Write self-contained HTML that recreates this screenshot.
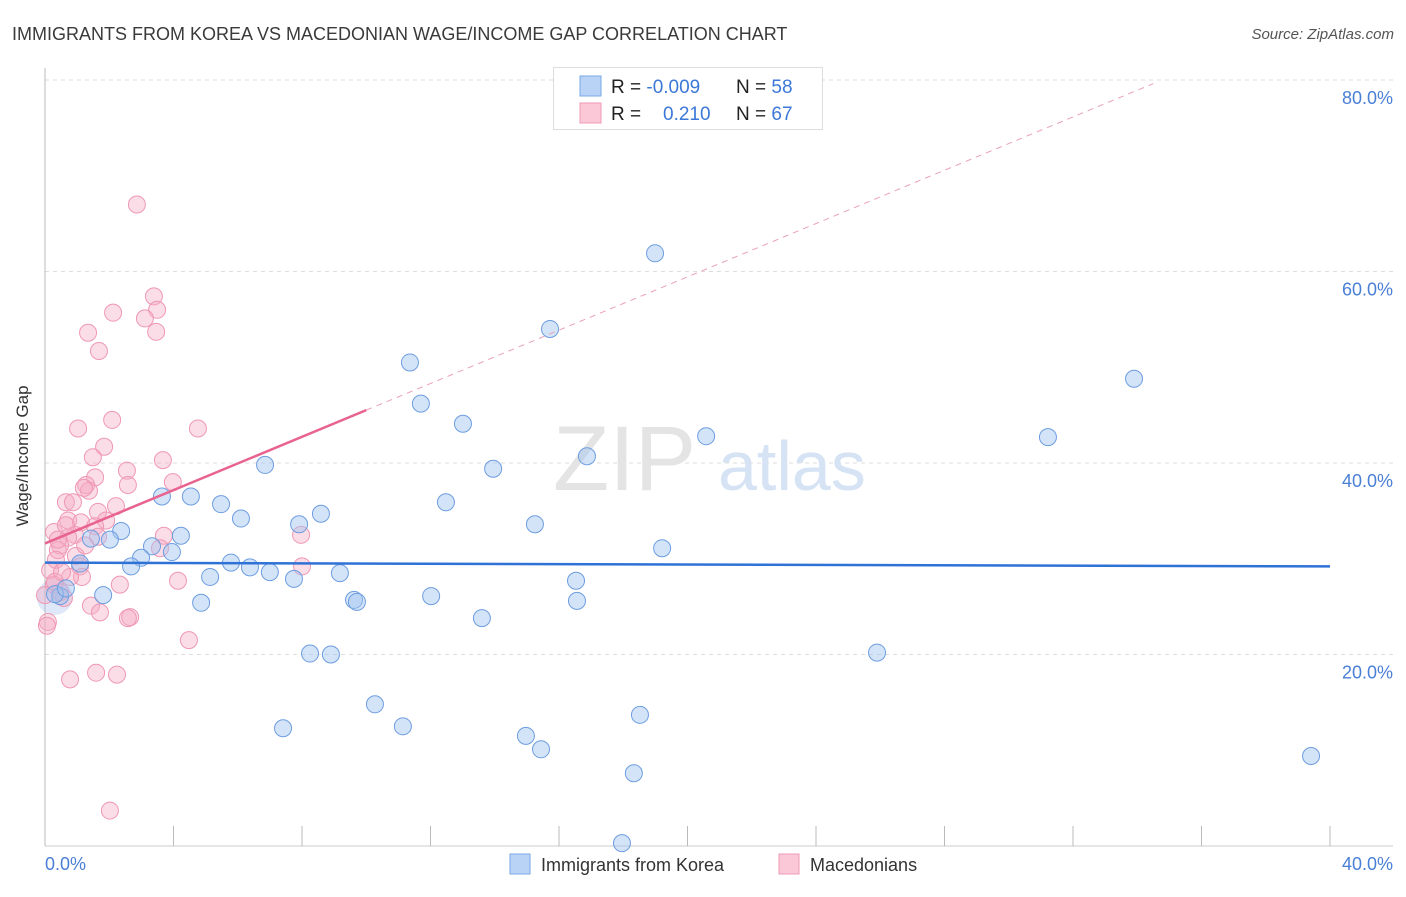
<!DOCTYPE html>
<html><head><meta charset="utf-8"><style>
body{margin:0;background:#fff;font-family:"Liberation Sans",sans-serif}
svg text{font-family:"Liberation Sans",sans-serif}
</style></head><body>
<svg id="chart" width="1406" height="892">
<text x="12" y="40" font-size="18" fill="#3a3a3a">IMMIGRANTS FROM KOREA VS MACEDONIAN WAGE/INCOME GAP CORRELATION CHART</text>
<text x="1394" y="39" font-size="15" fill="#555" font-style="italic" text-anchor="end">Source: ZipAtlas.com</text>
<g id="grid"></g>
<g><text x="553" y="490" font-size="92" font-family="Liberation Serif" fill="#e4e4e4">ZIP</text><text x="718" y="490" font-size="70" fill="#d5e3f5">atlas</text></g>
<line x1="45" y1="68" x2="45" y2="846" stroke="#bbb"/>
<line x1="45" y1="846" x2="1393" y2="846" stroke="#ccc"/>
<g id="ticks"></g>
<g id="pts"></g>
<g id="trend"></g>
<text x="28" y="456" font-size="17" fill="#333" text-anchor="middle" transform="rotate(-90 28 456)">Wage/Income Gap</text>
<text x="45" y="870" font-size="18" fill="#4a7fd6">0.0%</text>
<text x="1393" y="870" font-size="18" fill="#4a7fd6" text-anchor="end">40.0%</text>
<g>
<rect x="553.5" y="67.5" width="269" height="62" fill="#fff" stroke="#ddd"/>
<rect x="580" y="76" width="21" height="20" fill="#b8d3f5" stroke="#7aa7e6"/>
<rect x="580" y="103" width="21" height="20" fill="#fac8d6" stroke="#f09ab5"/>
<text x="611" y="93" font-size="19" fill="#222">R = <tspan fill="#3b78d8">-0.009</tspan></text>
<text x="736" y="93" font-size="19" fill="#222">N = <tspan fill="#3b78d8">58</tspan></text>
<text x="611" y="120" font-size="19" fill="#222">R = </text>
<text x="663" y="120" font-size="19" fill="#3b78d8">0.210</text>
<text x="736" y="120" font-size="19" fill="#222">N = <tspan fill="#3b78d8">67</tspan></text>
</g>
<g>
<rect x="510" y="854" width="20" height="20" fill="#b8d3f5" stroke="#7aa7e6"/>
<text x="541" y="871" font-size="18" fill="#333">Immigrants from Korea</text>
<rect x="779" y="854" width="20" height="20" fill="#fac8d6" stroke="#f09ab5"/>
<text x="810" y="871" font-size="18" fill="#333">Macedonians</text>
</g>
</svg>
<script>
const yTicks=[20,40,60,80];
const yTickLabels=["20.0%","40.0%","60.0%","80.0%"];
const xTicks=[0,4,8,12,16,20,24,28,32,36,40];
const koreaX=[18.99,15.72,11.36,11.70,33.90,13.01,20.58,31.22,16.87,6.85,13.95,3.64,4.54,12.48,5.48,6.10,8.59,7.91,15.25,4.23,2.37,2.02,1.43,3.33,19.21,2.99,3.95,2.68,1.09,5.79,6.38,7.00,5.14,7.75,9.18,16.53,1.81,4.86,9.62,9.71,12.02,16.56,13.60,0.47,0.31,8.25,8.90,25.90,10.27,11.14,7.41,14.97,15.44,18.52,18.33,39.41,17.96,0.65];
const koreaY=[61.9,54.0,50.5,46.2,48.8,44.1,42.8,42.7,40.7,39.8,39.4,36.5,36.5,35.9,35.7,34.2,34.7,33.6,33.6,32.4,32.9,32.0,32.1,31.3,31.1,30.1,30.7,29.2,29.5,29.6,29.1,28.6,28.1,27.9,28.5,27.7,26.2,25.4,25.7,25.5,26.1,25.6,23.8,26.1,26.3,20.1,20.0,20.2,14.8,12.5,12.3,11.5,10.1,13.7,7.6,9.4,0.3,26.9];
const macX=[2.86,3.39,3.49,2.12,3.11,3.46,1.34,1.68,2.09,1.03,4.76,1.84,1.49,3.67,2.55,1.56,3.98,1.28,2.58,1.37,0.65,0.87,2.21,1.21,1.65,0.72,1.90,1.12,1.56,0.28,0.93,1.65,0.72,3.70,7.97,0.47,0.40,3.58,0.96,0.34,1.09,8.00,0.16,1.15,0.78,4.14,0.28,0.47,0.59,1.43,1.71,2.65,2.58,4.48,0.09,0.06,0.78,1.59,2.24,2.02,0.0,2.33,0.65,0.40,0.31,0.53,1.25];
const macY=[67.0,57.4,56.0,55.7,55.1,53.7,53.6,51.7,44.5,43.6,43.6,41.7,40.6,40.3,39.2,38.5,38.0,37.7,37.7,37.1,35.9,35.9,35.5,37.4,34.9,34.0,34.0,33.8,33.4,32.8,32.5,32.3,32.2,32.4,32.5,31.4,30.9,31.1,30.3,29.9,29.2,29.2,28.8,28.1,28.1,27.7,27.3,26.5,25.9,25.1,24.4,23.9,23.8,21.5,23.4,23.0,17.4,18.1,17.9,3.7,26.2,27.3,33.5,32.0,27.6,28.6,31.4];
const koreaTrend=[29.6,-0.01];   // intercept, slope
const macTrend=[31.6,1.392];
const NS="http://www.w3.org/2000/svg";
const sx=v=>45+v*32.125, sy=v=>846-v*9.575;
function mk(t,a,p){const e=document.createElementNS(NS,t);for(const k in a)e.setAttribute(k,a[k]);p.appendChild(e);return e;}
const grid=document.getElementById('grid');
yTicks.forEach((t,i)=>{
  const l=mk('line',{x1:45,x2:1393,y1:sy(t),y2:sy(t),stroke:'#ddd','stroke-dasharray':'4,4'},grid);
  
  
  const tx=mk('text',{x:1393,y:sy(t)+24,'font-size':18,fill:'#4a7fd6','text-anchor':'end'},grid);
  tx.textContent=yTickLabels[i];
  
  
});
const ticks=document.getElementById('ticks');
xTicks.forEach(t=>{
  const l=mk('line',{x1:sx(t),x2:sx(t),y1:826,y2:846,stroke:'#bbb'},ticks);
  
  
});
const pts=document.getElementById('pts');
mk('circle',{cx:sx(0.3),cy:sy(26),r:18,fill:'rgba(160,190,235,0.35)',stroke:'none'},pts);
macX.forEach((x,i)=>{
  const c=mk('circle',{cx:sx(x),cy:sy(macY[i]),r:8.5,fill:'rgba(246,170,196,0.4)',stroke:'#ef98b4','stroke-width':1},pts);
  
  
});
koreaX.forEach((x,i)=>{
  const c=mk('circle',{cx:sx(x),cy:sy(koreaY[i]),r:8.5,fill:'rgba(160,196,240,0.45)',stroke:'#6d9de0','stroke-width':1},pts);
  
  
});
const tr=document.getElementById('trend');
const kl=mk('line',{x1:sx(0),y1:sy(koreaTrend[0]),x2:sx(40),y2:sy(koreaTrend[0]+40*koreaTrend[1]),stroke:'#2f72d6','stroke-width':2.5},tr);


const ms=mk('line',{x1:sx(0),y1:sy(macTrend[0]),x2:sx(10),y2:sy(macTrend[0]+10*macTrend[1]),stroke:'#e8638f','stroke-width':2.5},tr);


const md=mk('line',{x1:sx(10),y1:sy(macTrend[0]+10*macTrend[1]),x2:sx(34.5),y2:sy(macTrend[0]+34.5*macTrend[1]),stroke:'#eaa0b8','stroke-width':1,'stroke-dasharray':'6,5'},tr);


</script>
</body></html>
